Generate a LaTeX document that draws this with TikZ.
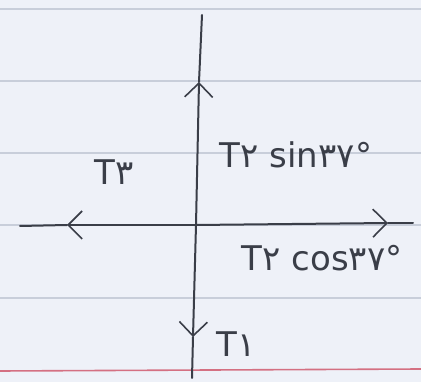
\documentclass[tikz,border=0pt]{standalone}
\usepackage{fontspec}
\setmainfont{DejaVu Sans}
\usetikzlibrary{arrows.meta, calc}
\definecolor{paperbg}{RGB}{238, 241, 248}
\definecolor{ruleline}{RGB}{200, 206, 218}
\definecolor{marginred}{RGB}{212, 112, 130}
\definecolor{inkgray}{RGB}{58, 62, 72}

\tikzset{
  force/.style={draw=inkgray, line width=2pt, line cap=round},
  tip/.style={-{Straight Barb[length=14pt, width=28pt, line width=1.6pt]}},
  label/.style={text=inkgray, font=\fontsize{34}{36}\selectfont, inner sep=0pt}
}

\begin{document}
\begin{tikzpicture}[x=1pt, y=-1pt]
  \fill[paperbg] (0,0) rectangle (421,382);
  \useasboundingbox (0,0) rectangle (421,382);
  % ruled paper
  \foreach \yy in {9, 81, 153, 225, 298} {
    \draw[ruleline, line width=1.3pt] (0,\yy) -- (421,\yy);
  }
  \draw[marginred, line width=1.6pt] (0,371) -- (421,369);

  \coordinate (o) at (196,225);
  \coordinate (top) at (202,15);
  \coordinate (bottom) at (192,378);
  \coordinate (left) at (20,226);
  \coordinate (right) at (413,223);
  \coordinate (uptip) at (199,82);
  \coordinate (downtip) at (193,337);
  \coordinate (lefttip) at (67,225);
  \coordinate (righttip) at (388,223);

  \draw[force, tip] (o) -- (uptip);
  \draw[force] (uptip) -- (top);
  \draw[force, tip] (o) -- (downtip);
  \draw[force] (downtip) -- (bottom);
  \draw[force, tip] (o) -- (lefttip);
  \draw[force] (lefttip) -- (left);
  \draw[force, tip] (o) -- (righttip);
  \draw[force] (righttip) -- (right);

  \node[label] (t3) at (114,172) {T۳};
  \node[label] (t2sin) at (296,155) {T۲ sin۳۷°};
  \node[label] (t2cos) at (322,258) {T۲ cos۳۷°};
  \node[label] (t1) at (236,344) {T۱};
\end{tikzpicture}
\end{document}
